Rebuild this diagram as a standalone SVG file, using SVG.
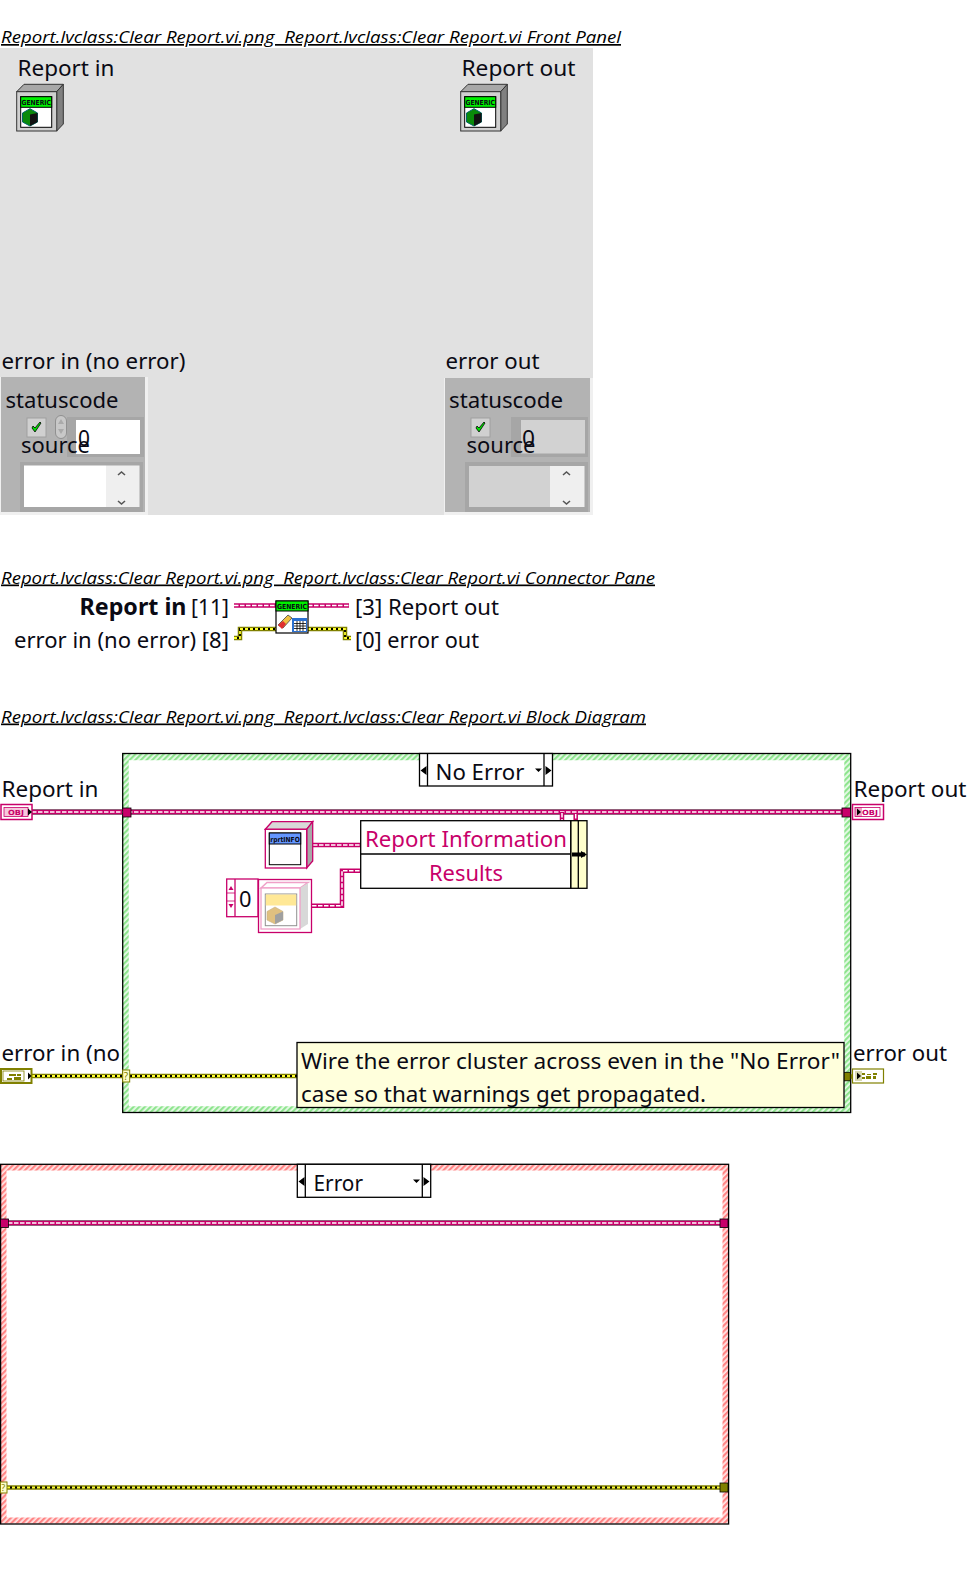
<svg xmlns="http://www.w3.org/2000/svg" width="969" height="1575" viewBox="0 0 969 1575">
<style>
text{font-family:"Noto Sans","Open Sans","Liberation Sans",sans-serif;font-size:22.5px;fill:#0a0a14}
.h{font-family:"Open Sans","Noto Sans",sans-serif;font-size:17px;font-style:italic;text-decoration:underline;fill:#000;white-space:pre}
.pk{fill:#c8006a}
.tiny{font-family:"DejaVu Sans",sans-serif;font-size:7px;font-weight:bold}
.wg{fill:none;stroke:#808080;stroke-width:6}
.wp{fill:none;stroke:#c8006a;stroke-width:4.500}
.wd{fill:none;stroke:#fff;stroke-width:1.500;stroke-dasharray:4.500 1.500}
.eo{fill:none;stroke:#808000;stroke-width:4.500}
.ed{fill:none;stroke:#000;stroke-width:1.800}
.ey{fill:none;stroke:#ffff30;stroke-width:1.800;stroke-dasharray:3 2}
.bx{fill:#fff;stroke:#000;stroke-width:1.300}
.lt{fill:#efefef}
.chev{fill:none;stroke:#555;stroke-width:1.600}
.tun{fill:#c8006a;stroke:#000;stroke-width:.8}
.tue{fill:#808000;stroke:#000;stroke-width:.8}
</style>
<defs>
<pattern id="hg" width="4" height="4" patternUnits="userSpaceOnUse" patternTransform="rotate(45)"><rect width="4" height="4" fill="#eafbea"/><rect width="2.200" height="4" fill="#8ee48e"/></pattern>
<pattern id="hr" width="4" height="4" patternUnits="userSpaceOnUse" patternTransform="rotate(45)"><rect width="4" height="4" fill="#ffe6e6"/><rect width="2.200" height="4" fill="#ff8585"/></pattern>
</defs>
<rect width="969" height="1575" fill="#fff"/>

<g id="headers">
<text class="h" x="1" y="43" textLength="620" lengthAdjust="spacingAndGlyphs">Report.lvclass:Clear Report.vi.png  Report.lvclass:Clear Report.vi Front Panel</text>
<text class="h" x="1" y="583.500" textLength="654" lengthAdjust="spacingAndGlyphs">Report.lvclass:Clear Report.vi.png  Report.lvclass:Clear Report.vi Connector Pane</text>
<text class="h" x="1" y="722.500" textLength="645" lengthAdjust="spacingAndGlyphs">Report.lvclass:Clear Report.vi.png  Report.lvclass:Clear Report.vi Block Diagram</text>
</g>

<g id="front-panel">
<rect x="0" y="48" width="593" height="467" fill="#e1e1e1"/>
</g>

<g id="report-in-control">
<text x="17.500" y="76" textLength="97" lengthAdjust="spacingAndGlyphs">Report in</text>
<path d="M16.700 91.700L24 84.300H63.300L56.700 91.700Z" fill="#a8a8a8" stroke="#333"/>
<path d="M56.700 91.700L63.300 84.300V124L56.700 131Z" fill="#808080" stroke="#333"/>
<rect x="16.700" y="91.700" width="40" height="39.300" fill="#d0d0d0" stroke="#333"/>
<rect x="20.700" y="96.700" width="31" height="30.600" fill="#fff" stroke="#000"/>
<rect x="20.700" y="96.700" width="31" height="10.600" fill="#00f000" stroke="#000"/>
<text class="tiny" x="21.500" y="105" textLength="29.500" lengthAdjust="spacingAndGlyphs">GENERIC</text>
<path d="M30 108.700L37.500 113V122L30 126L22.500 122V113Z" fill="#0a8a0a" stroke="#066"/>
<path d="M30 114.500L37.500 113V122L30 126Z" fill="#111"/>
</g>

<g id="report-out-indicator">
<text x="461.500" y="76" textLength="114" lengthAdjust="spacingAndGlyphs">Report out</text>
<g transform="translate(444 0)">
<path d="M16.700 91.700L24 84.300H63.300L56.700 91.700Z" fill="#a8a8a8" stroke="#333"/>
<path d="M56.700 91.700L63.300 84.300V124L56.700 131Z" fill="#808080" stroke="#333"/>
<rect x="16.700" y="91.700" width="40" height="39.300" fill="#d0d0d0" stroke="#333"/>
<rect x="20.700" y="96.700" width="31" height="30.600" fill="#fff" stroke="#000"/>
<rect x="20.700" y="96.700" width="31" height="10.600" fill="#00f000" stroke="#000"/>
<text class="tiny" x="21.500" y="105" textLength="29.500" lengthAdjust="spacingAndGlyphs">GENERIC</text>
<path d="M30 108.700L37.500 113V122L30 126L22.500 122V113Z" fill="#0a8a0a" stroke="#066"/>
<path d="M30 114.500L37.500 113V122L30 126Z" fill="#111"/>
</g>
</g>

<g id="error-in-cluster">
<text x="1.500" y="369" textLength="184" lengthAdjust="spacingAndGlyphs">error in (no error)</text>
<rect x="0" y="377" width="148" height="138" fill="#f0f0f0"/>
<rect x="1" y="377" width="144" height="135" fill="#b3b3b3"/>
<rect x="27" y="418" width="19" height="19" fill="#d0d0d0" stroke="#a0a0a0"/>
<path d="M32 428l3 4 6-9-1-1-5 6-2-2z" fill="#00e000" stroke="#000" stroke-width=".8"/>
<rect x="55.500" y="415.500" width="11" height="23" rx="5.500" fill="#c8c8c8" stroke="#909090"/>
<path d="M58 424l3-5 3 5zM58 429l3 5 3-5z" fill="#aaa"/>
<rect x="67" y="417" width="77" height="40" fill="#a6a6a6"/>
<rect x="76" y="420" width="64" height="34" fill="#fff"/>
<text x="78" y="445.500" textLength="12" lengthAdjust="spacingAndGlyphs">0</text>
<text x="5.500" y="408" textLength="113" lengthAdjust="spacingAndGlyphs">statuscode</text>
<text x="21" y="453" textLength="69" lengthAdjust="spacingAndGlyphs">source</text>
<rect x="20" y="462" width="123" height="50" fill="#a6a6a6"/>
<rect x="24" y="465.500" width="82" height="41.500" fill="#fff"/>
<rect class="lt" x="106" y="465.500" width="33.500" height="41.500"/>
<path class="chev" d="M118 475l3.500-3 3.500 3M118 501l3.500 3 3.500-3"/>
</g>

<g id="error-out-cluster">
<text x="445.500" y="369" textLength="94" lengthAdjust="spacingAndGlyphs">error out</text>
<rect x="444" y="378" width="149" height="137" fill="#f0f0f0"/>
<rect x="445" y="378" width="145" height="134" fill="#b3b3b3"/>
<rect x="471" y="418" width="19" height="19" fill="#d0d0d0" stroke="#a0a0a0"/>
<path d="M476 428l3 4 6-9-1-1-5 6-2-2z" fill="#00e000" stroke="#000" stroke-width=".8"/>
<rect x="511" y="417" width="77" height="40" fill="#a6a6a6"/>
<rect x="521" y="420" width="64" height="33.500" fill="#d2d2d2"/>
<text x="522" y="446" textLength="13" lengthAdjust="spacingAndGlyphs">0</text>
<text x="449" y="408" textLength="114" lengthAdjust="spacingAndGlyphs">statuscode</text>
<text x="466.500" y="453" textLength="69" lengthAdjust="spacingAndGlyphs">source</text>
<rect x="465" y="462" width="123" height="50" fill="#a6a6a6"/>
<rect x="469" y="466" width="81" height="41" fill="#d2d2d2"/>
<rect class="lt" x="550" y="466" width="34.500" height="41"/>
<path class="chev" d="M563 475l3.500-3 3.500 3M563 501l3.500 3 3.500-3"/>
</g>

<g id="connector-labels">
<text x="79.500" y="615" textLength="107" lengthAdjust="spacingAndGlyphs" font-weight="bold">Report in</text>
<text x="191" y="615" textLength="38" lengthAdjust="spacingAndGlyphs">[11]</text>
<text x="355" y="615" textLength="144" lengthAdjust="spacingAndGlyphs">[3] Report out</text>
<text x="14" y="648" textLength="215" lengthAdjust="spacingAndGlyphs">error in (no error) [8]</text>
<text x="355" y="648" textLength="124" lengthAdjust="spacingAndGlyphs">[0] error out</text>
</g>

<g id="no-error-case">
<rect x="125.500" y="757" width="722" height="352.500" fill="none" stroke="url(#hg)" stroke-width="6.500"/>
<rect x="122.700" y="753.500" width="728" height="359" fill="none" stroke="#000" stroke-width="1.300"/>
</g>

<g id="error-case">
<rect x="3.500" y="1167.500" width="722" height="353" fill="none" stroke="url(#hr)" stroke-width="6"/>
<rect x="0.600" y="1164.300" width="728" height="359.700" fill="none" stroke="#000" stroke-width="1.300"/>
</g>

<g id="connectors">
<path class="wp" d="M234 605.500H276M308 605.500H349"/>
<path class="wd" d="M234 605.500H276M308 605.500H349"/>
<path class="eo" d="M234 638H240V629H276M308 629H345V638H351"/>
<path class="ed" d="M234 638H240V629H276M308 629H345V638H351"/>
<path class="ey" d="M234 638H240V629H276M308 629H345V638H351"/>

<path class="wg" d="M32 812H842"/>
<path class="wp" d="M32 812H842"/>
<path class="wd" d="M32 812H842"/>
<path class="wp" d="M562 812V820.500M575.700 813V820.500"/>
<path class="wd" d="M562 813V820.500M575.700 814V820.500"/>
<path class="wp" d="M313 845H360.500M312 905.700H342V870.700H360.500"/>
<path class="wd" d="M313 845H360.500M312 905.700H342V870.700H360.500"/>

<path class="eo" d="M32 1076H297"/>
<path class="ed" d="M32 1076H297"/>
<path class="ey" d="M32 1076H297"/>
<path class="eo" d="M850 1076.500H853"/>

<path class="wg" d="M8 1223H720" stroke-width="5"/>
<path class="wp" d="M8 1223H720"/>
<path class="wd" d="M8 1223H720"/>
<path class="eo" d="M7 1487.500H720"/>
<path class="ed" d="M7 1487.500H720"/>
<path class="ey" d="M7 1487.500H720"/>
</g>

<g id="clear-report-icon">
<rect x="276" y="601" width="32" height="32" fill="#fff" stroke="#000" stroke-width="1.200"/>
<rect x="276" y="601" width="32" height="10" fill="#00f000" stroke="#000"/>
<text class="tiny" x="277" y="609" textLength="30" lengthAdjust="spacingAndGlyphs">GENERIC</text>
<path d="M278 625l10-10 4 3-9 10z" fill="#f0c040" stroke="#444" stroke-width=".8"/>
<path d="M278 625l5-4 3 3-4 5z" fill="#e03030"/>
<rect x="292" y="618" width="15" height="14" fill="#2a70d0"/>
<rect x="294" y="621" width="12" height="10" fill="#fff"/>
<path d="M294 623.500h12M294 626h12M294 628.500h12M297 621v10M300 621v10M303 621v10" stroke="#000" stroke-width=".8"/>
</g>

<g id="no-error-selector">
<rect class="bx" x="419.500" y="753.500" width="133" height="32.500"/>
<path d="M427.500 753.500V786M544 753.500V786" stroke="#000" stroke-width="1.300"/>
<path d="M420.500 770.500L426.500 766V775ZM551.500 770.500L545.500 766V775ZM535 768.500H542L538.500 772Z" fill="#000"/>
<text x="435.500" y="780" textLength="89" lengthAdjust="spacingAndGlyphs">No Error</text>
</g>

<g id="report-in-terminal">
<text x="1.500" y="797" textLength="97" lengthAdjust="spacingAndGlyphs">Report in</text>
<rect x="1" y="804.500" width="31" height="15" fill="#fff" stroke="#c8006a" stroke-width="1.500"/>
<rect x="4" y="807.500" width="24" height="9" fill="#f6c8dc" stroke="#c8006a" stroke-width=".8"/>
<text class="tiny pk" x="8" y="815" textLength="16" lengthAdjust="spacingAndGlyphs">OBJ</text>
<path d="M28 808.500L32 812L28 815.500Z" fill="#000"/>
</g>

<g id="report-out-terminal">
<text x="853.500" y="797" textLength="113" lengthAdjust="spacingAndGlyphs">Report out</text>
<rect x="852.500" y="804.500" width="31" height="15" fill="#fff" stroke="#c8006a" stroke-width="1.500"/>
<rect x="855" y="807" width="7" height="10" fill="#f0a0c8"/>
<rect x="855" y="807.500" width="25" height="9" fill="none" stroke="#c8006a" stroke-width=".8"/>
<text class="tiny pk" x="862" y="815" textLength="16" lengthAdjust="spacingAndGlyphs">OBJ</text>
<path d="M857 808.500L861 812L857 815.500Z" fill="#000"/>
</g>

<g id="error-in-terminal">
<text x="1.500" y="1061" textLength="118.500" lengthAdjust="spacingAndGlyphs">error in (no</text>
<rect x="1" y="1069" width="30.500" height="14" fill="#fff" stroke="#808000" stroke-width="2"/>
<rect x="3" y="1071" width="21" height="10" fill="#fff" stroke="#808000" stroke-width=".8"/>
<path d="M9 1074h7v2h-7zM17 1074h4v2h-4zM7 1078h5v2h-5zM14 1077h7v3h-7z" fill="#808000"/>
<path d="M28 1072.500L31.500 1076L28 1079.500Z" fill="#000"/>
</g>

<g id="error-out-terminal">
<text x="853" y="1061" textLength="94" lengthAdjust="spacingAndGlyphs">error out</text>
<rect x="852.500" y="1069" width="31" height="14" fill="#fff" stroke="#808000" stroke-width="1.200"/>
<rect x="855" y="1071" width="7" height="10" fill="#d8d8b0"/>
<path d="M862 1073h3v2h-3zM867 1074h4v1h-4zM873 1073h4v2h-4zM862 1077h3v2h-3zM866 1076h5v3h-5zM873 1076h3v3h-3z" fill="#808000"/>
<path d="M857 1072.500L861 1076L857 1079.500Z" fill="#000"/>
</g>

<g id="tunnels">
<rect class="tun" x="122.700" y="808" width="8.300" height="9"/>
<rect class="tun" x="842" y="808" width="8.500" height="9"/>
<rect x="122.700" y="1070" width="7" height="12" fill="#ffffcc" stroke="#808000"/>
<text x="123.700" y="1080" style="font-size:10px;fill:#808000">?</text>
<rect class="tue" x="842.300" y="1072.300" width="8" height="8.500"/>
<rect class="tun" x="0.500" y="1219" width="8" height="8.500"/>
<rect class="tun" x="720" y="1219" width="8" height="8.500"/>
<rect x="0.500" y="1482" width="6.500" height="11" fill="#ffffcc" stroke="#808000"/>
<text x="1.200" y="1491" style="font-size:9px;fill:#808000">?</text>
<rect class="tue" x="720" y="1483" width="8" height="9"/>
</g>

<g id="report-info-constant">
<path d="M265.300 829.300L272 821.700H312.700L306.700 829.300Z" fill="#d8d8d8" stroke="#c8006a" stroke-width="1.300"/>
<path d="M306.700 829.300L312.700 821.700V861L306.700 868Z" fill="#a8a8a8" stroke="#c8006a" stroke-width="1.300"/>
<rect x="265.300" y="829.300" width="41.400" height="38.700" fill="#fff" stroke="#c8006a" stroke-width="1.300"/>
<rect x="269.300" y="833" width="31.400" height="31.700" fill="#fff" stroke="#000"/>
<rect x="269.300" y="833" width="31.400" height="11" fill="#6496ff" stroke="#000"/>
<text class="tiny" x="270.300" y="841.500" textLength="29.500" lengthAdjust="spacingAndGlyphs">rprtINFO</text>
</g>

<g id="numeric-constant">
<rect x="226.700" y="879" width="31.300" height="37.700" fill="#fff" stroke="#c8006a" stroke-width="1.300"/>
<path d="M235 879V916.700" stroke="#c8006a" stroke-width="1.300"/>
<path d="M227 893H235M227 901H235" stroke="#c8006a" stroke-width=".8"/>
<path d="M228.500 890L231 886L233.500 890ZM228.500 904L231 908L233.500 904Z" fill="#c8006a"/>
<text x="239" y="907" textLength="12.500" lengthAdjust="spacingAndGlyphs">0</text>
</g>

<g id="class-constant">
<rect x="258.500" y="879.500" width="53" height="53" fill="#fff" stroke="#c8006a" stroke-width="1.300"/>
<path d="M261 888L267 882.500H308L300 888Z" fill="#fff" stroke="#f0a0c8" stroke-width="1.500"/>
<path d="M300 888L308 883V924L300 929Z" fill="#d8d8d8"/>
<rect x="261" y="888" width="39" height="41" fill="#fff" stroke="#f0a0c8" stroke-width="1.300"/>
<rect x="265.300" y="894" width="31.400" height="31.700" fill="#fff" stroke="#909090"/>
<rect x="265.800" y="894.500" width="30.400" height="11" fill="#ffe896"/>
<path d="M275 907L283 911.500V920L275 924L267 920V911.500Z" fill="#e0c080" stroke="#c8b080" stroke-width=".6"/>
<path d="M275 915L283 911.500V920L275 924Z" fill="#a0a0a0"/>
</g>

<g id="report-property-node">
<rect x="570.700" y="820.700" width="16.300" height="67.600" fill="#ffffcc" stroke="#000" stroke-width="1.300"/>
<path d="M578.300 820.700V888.300" stroke="#000" stroke-width="1.300"/>
<rect class="bx" x="360.700" y="820.700" width="210" height="67.600"/>
<path d="M360.700 854H570.700" stroke="#000" stroke-width="1.300"/>
<text class="pk" x="365" y="847" textLength="202" lengthAdjust="spacingAndGlyphs">Report Information</text>
<text class="pk" x="429" y="881" textLength="74" lengthAdjust="spacingAndGlyphs">Results</text>
<path d="M572 854.500H585" stroke="#000" stroke-width="4"/>
<path d="M581 851L587 854.500L581 858Z" fill="#000"/>
</g>

<g id="note">
<rect x="297" y="1042.500" width="547" height="65" fill="#ffffdc" stroke="#000" stroke-width="1.300"/>
<text x="301" y="1069" textLength="539" lengthAdjust="spacingAndGlyphs">Wire the error cluster across even in the "No Error"</text>
<text x="301" y="1101.500" textLength="405" lengthAdjust="spacingAndGlyphs">case so that warnings get propagated.</text>
</g>

<g id="error-selector">
<rect class="bx" x="297.300" y="1164.300" width="133.400" height="33"/>
<path d="M305.300 1164.300V1197.300M422.300 1164.300V1197.300" stroke="#000" stroke-width="1.300"/>
<path d="M298.500 1181.500L304.500 1177V1186ZM429.500 1181.500L423.500 1177V1186ZM413 1179.500H420L416.500 1183Z" fill="#000"/>
<text x="313.500" y="1191" textLength="49.500" lengthAdjust="spacingAndGlyphs">Error</text>
</g>
</svg>
